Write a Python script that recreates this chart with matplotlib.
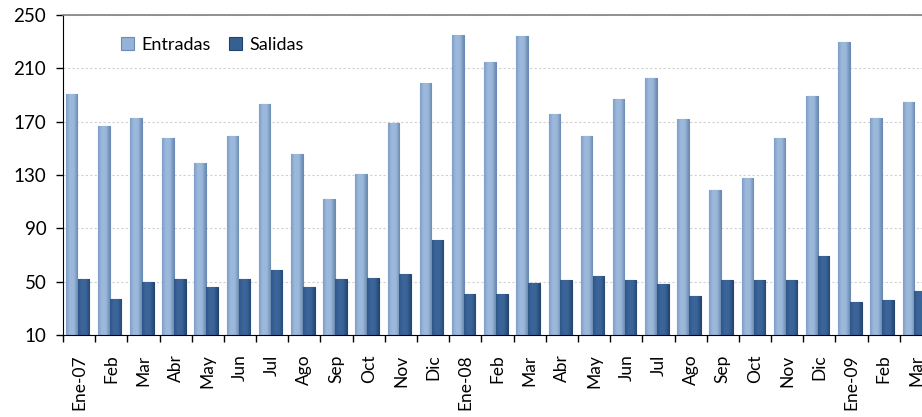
import matplotlib.pyplot as plt
from matplotlib.colors import LinearSegmentedColormap
import numpy as np

meses = ["Ene-07", "Feb", "Mar", "Abr", "May", "Jun", "Jul", "Ago", "Sep", "Oct", "Nov", "Dic",
         "Ene-08", "Feb", "Mar", "Abr", "May", "Jun", "Jul", "Ago", "Sep", "Oct", "Nov", "Dic",
         "Ene-09", "Feb", "Mar"]
entradas = [191, 167, 173, 158, 139, 159, 183, 146, 112, 131, 169, 199,
            235, 215, 234, 176, 159, 187, 203, 172, 119, 128, 158, 189,
            230, 173, 185]
salidas = [52, 37, 50, 52, 46, 52, 59, 46, 52, 53, 56, 81,
           41, 41, 49, 51, 54, 51, 48, 39, 51, 51, 51, 69,
           35, 36, 43]

plt.rcParams['font.family'] = ['Lato', 'DejaVu Sans']

fig = plt.figure(figsize=(9.22, 4.17), dpi=100)
ax = fig.add_axes([63 / 922, 82 / 417, 869 / 922, 320 / 417])

x = np.arange(len(meses))
w = 0.36
bars1 = ax.bar(x - 0.235, np.array(entradas) - 10, w, bottom=10, color="#95B3D7",
               edgecolor="#6A8BB5", linewidth=0.8, label="Entradas", zorder=3)
bars2 = ax.bar(x + 0.135, np.array(salidas) - 10, w, bottom=10, color="#376092",
               edgecolor="#22446E", linewidth=0.8, label="Salidas", zorder=3)

# horizontal shading so the bars look rounded like the Excel ones
cm1 = LinearSegmentedColormap.from_list("e", ["#7F9FC8", "#9DBADD", "#9AB7DA", "#6D8CB4"])
cm2 = LinearSegmentedColormap.from_list("s", ["#2E5689", "#3C659A", "#3A6397", "#254A78"])
grad = np.linspace(0, 1, 64).reshape(1, -1)
for bars, cm in ((bars1, cm1), (bars2, cm2)):
    for p in bars:
        x0, y0 = p.get_x(), p.get_y()
        im = ax.imshow(grad, cmap=cm, aspect="auto", zorder=3.5,
                       extent=(x0, x0 + p.get_width(), y0, y0 + p.get_height()))
        im.set_clip_path(p)

ax.set_xlim(-0.5, len(meses) - 0.5)
ax.set_ylim(10, 250)
ax.set_yticks(np.arange(10, 251, 40))
ax.yaxis.grid(True, color="#D0D0D0", linestyle=(0, (2, 2)), linewidth=0.8, zorder=0)

ax.set_xticks(x)
ax.set_xticklabels(meses, rotation=90, fontsize=12.5)
ax.set_xticks(np.arange(-0.5, len(meses)), minor=True)
ax.tick_params(axis="x", which="major", length=0, pad=14)
ax.tick_params(axis="x", which="minor", length=5, width=1, color="black")
ax.tick_params(axis="y", length=5, width=1, labelsize=13.5, pad=7)

ax.spines["top"].set_color("#808080")
ax.spines["top"].set_linewidth(1.2)
ax.spines["right"].set_visible(False)
ax.spines["left"].set_color("black")
ax.spines["bottom"].set_color("black")
ax.spines["bottom"].set_zorder(5)

ax.legend(loc="upper left", bbox_to_anchor=(0.058, 0.955), ncol=2, frameon=False,
          fontsize=13, handlelength=0.75, handleheight=0.75, handletextpad=0.4,
          columnspacing=1.0, borderaxespad=0)

fig.savefig("out.png", dpi=100)
